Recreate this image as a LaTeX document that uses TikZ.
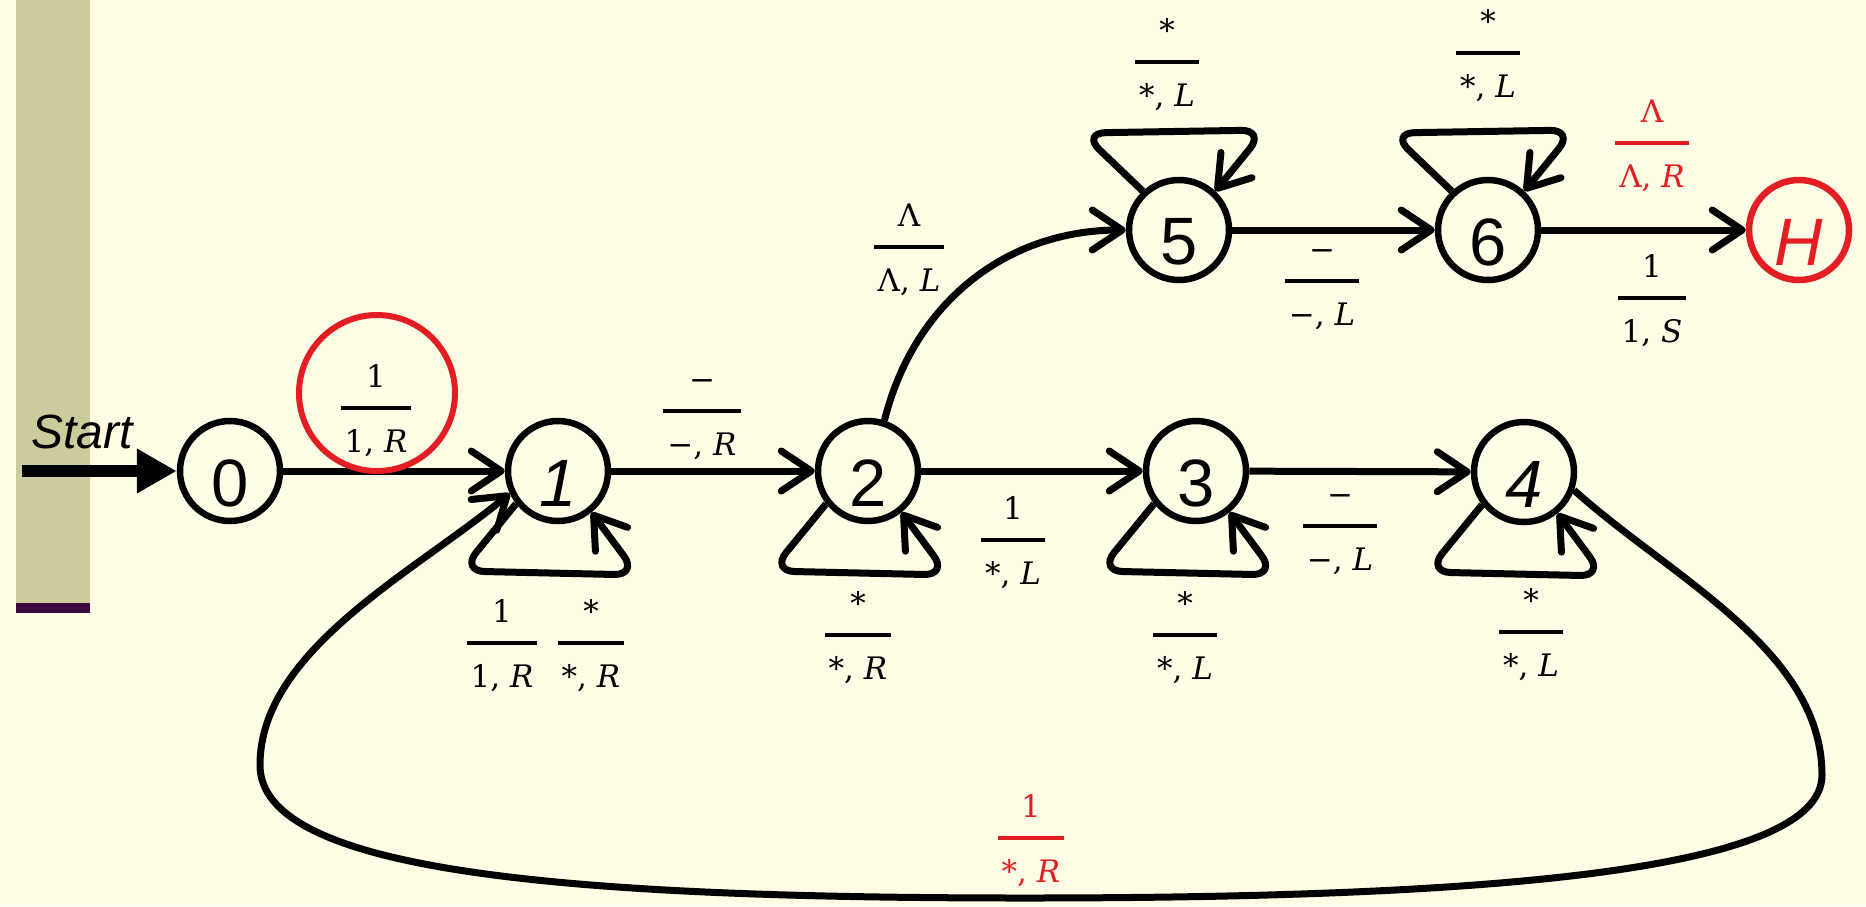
\RequirePackage{fix-cm}
\documentclass[tikz,border=0pt]{standalone}
\usepackage[no-math]{fontspec}
\newfontfamily\arialfont{Liberation Sans}
\newfontfamily\lblfont{DejaVu Serif}
\usetikzlibrary{arrows.meta,calc}
\definecolor{bg}{RGB}{255,253,229}
\definecolor{band}{RGB}{204,203,156}
\definecolor{bandline}{RGB}{60,10,60}
\definecolor{hred}{RGB}{226,30,36}
\newcommand{\I}[1]{\textit{#1}}
\newcommand{\fr}[2]{\vbox{\offinterlineskip\halign{\hfil##\hfil\cr
  \vbox to 60pt{\vss\hbox{#1}\kern 19pt}\cr
  \noalign{\hrule height 3.8pt}
  \vbox to 60pt{\kern 20pt\hbox{\kern 4pt#2\kern 4pt}\vss}\cr}}}
\tikzset{
  stnode/.style={circle, draw, line width=6.5pt, minimum size=100pt, inner sep=0pt},
  digit/.style={font=\arialfont\fontsize{67}{74}\selectfont, inner sep=0pt},
  digitit/.style={font=\arialfont\itshape\fontsize{67}{74}\selectfont, inner sep=0pt},
  lbl/.style={font=\lblfont\fontsize{31}{36}\selectfont, inner sep=0pt},
  tr/.style={line width=7pt, -{Straight Barb[length=30pt,width=40pt,round]}},
  looptr/.style={tr, rounded corners=24pt},
}
\begin{document}
\begin{tikzpicture}[x=1pt,y=1pt]
\useasboundingbox (0,0) rectangle (1866,-906);
\fill[bg] (0,0) rectangle (1866,-906);
\fill[band] (16,0) rectangle (90,-603);
\fill[bandline] (16,-603) rectangle (90,-613);

% states
\node[stnode] (n0) at (230,-471) {};
\node[stnode] (n1) at (558,-471) {};
\node[stnode] (n2) at (868,-471) {};
\node[stnode] (n3) at (1196,-471) {};
\node[stnode] (n4) at (1524,-472) {};
\node[stnode] (n5) at (1179,-230) {};
\node[stnode] (n6) at (1488,-230) {};
\node[stnode, draw=hred] (nH) at (1799,-230) {};

\node[digit] (t0) at ([yshift=-12pt]n0.center) {0};
\node[digitit] (t1) at ([yshift=-12pt]n1.center) {1};
\node[digit] (t2) at ([yshift=-12pt]n2.center) {2};
\node[digit] (t3) at ([yshift=-12pt]n3.center) {3};
\node[digitit] (t4) at ([yshift=-12pt]n4.center) {4};
\node[digit] (t5) at ([yshift=-12pt]n5.center) {5};
\node[digit] (t6) at ([yshift=-12pt]n6.center) {6};
\node[digitit, text=hred] (tH) at ([yshift=-12pt]nH.center) {H};

% start
\coordinate (s) at (22,-471);
\node[font=\arialfont\itshape\fontsize{48}{52}\selectfont, inner sep=0pt, anchor=base west] (st) at (31,-448) {Start};
\draw[line width=12pt, -{Triangle[length=40pt,width=42pt]}] (s) -- (n0);

% straight transitions
\draw[tr] (n0) -- (n1);
\draw[tr] (n1) -- (n2);
\draw[tr] (n2) -- (n3);
\draw[tr] (n3) -- (n4);
\draw[tr] (n5) -- (n6);
\draw[tr] (n6) -- (nH);
\draw[tr] (n2.72) to[out=76,in=180] (n5);

% self loops below
\foreach \n in {n1,n2,n3,n4}{
  \draw[looptr] (\n.218) -- ($(\n)+(-97,-100)$) -- ($(\n)+(80,-104)$) -- (\n.-51);
}
% self loops above
\foreach \n in {n5,n6}{
  \draw[looptr] (\n.133) -- ($(\n)+(-97,97)$) -- ($(\n)+(86,100)$) -- (\n.47);
}

% big return loop 4 -> 1
\coordinate (br) at (1822,-775);
\coordinate (bb) at (1025,-898);
\coordinate (bl) at (260,-765);
\draw[tr] (n4.-20) .. controls +(-42:130) and (1822,-650) .. (br)
  .. controls (1822,-870) and (1500,-898) .. (bb)
  .. controls (550,-898) and (260,-870) .. (bl)
  .. controls (260,-650) and (415,-572) .. (n1.205);

% highlight circle
\node[circle, draw=hred, line width=6pt, minimum size=156pt, inner sep=0pt] (hl) at (377,-393) {};

% labels
\node[lbl] (e01) at (376,-408) {\fr{1}{1, \I{R}}};
\node[lbl] (e12) at (702,-411) {\fr{−}{−, \I{R}}};
\node[lbl] (e23) at (1013,-540) {\fr{1}{*, \I{L}}};
\node[lbl] (e34) at (1340,-526) {\fr{−}{−, \I{L}}};
\node[lbl] (e25) at (909,-247) {\fr{Λ}{Λ, \I{L}}};
\node[lbl] (e56) at (1322,-281) {\fr{−}{−, \I{L}}};
\node[lbl, text=hred] (e6Hr) at (1652,-143) {\fr{Λ}{Λ, \I{R}}};
\node[lbl] (e6Hb) at (1652,-298) {\fr{1}{1, \I{S}}};
\node[lbl] (l1a) at (502,-643) {\fr{1}{1, \I{R}}};
\node[lbl] (l1b) at (591,-643) {\fr{*}{*, \I{R}}};
\node[lbl] (l2) at (858,-635) {\fr{*}{*, \I{R}}};
\node[lbl] (l3) at (1185,-635) {\fr{*}{*, \I{L}}};
\node[lbl] (l4) at (1531,-632) {\fr{*}{*, \I{L}}};
\node[lbl] (l5) at (1167,-62) {\fr{*}{*, \I{L}}};
\node[lbl] (l6) at (1488,-53) {\fr{*}{*, \I{L}}};
\node[lbl, text=hred] (lb) at (1031,-838) {\fr{1}{*, \I{R}}};
\end{tikzpicture}
\end{document}
